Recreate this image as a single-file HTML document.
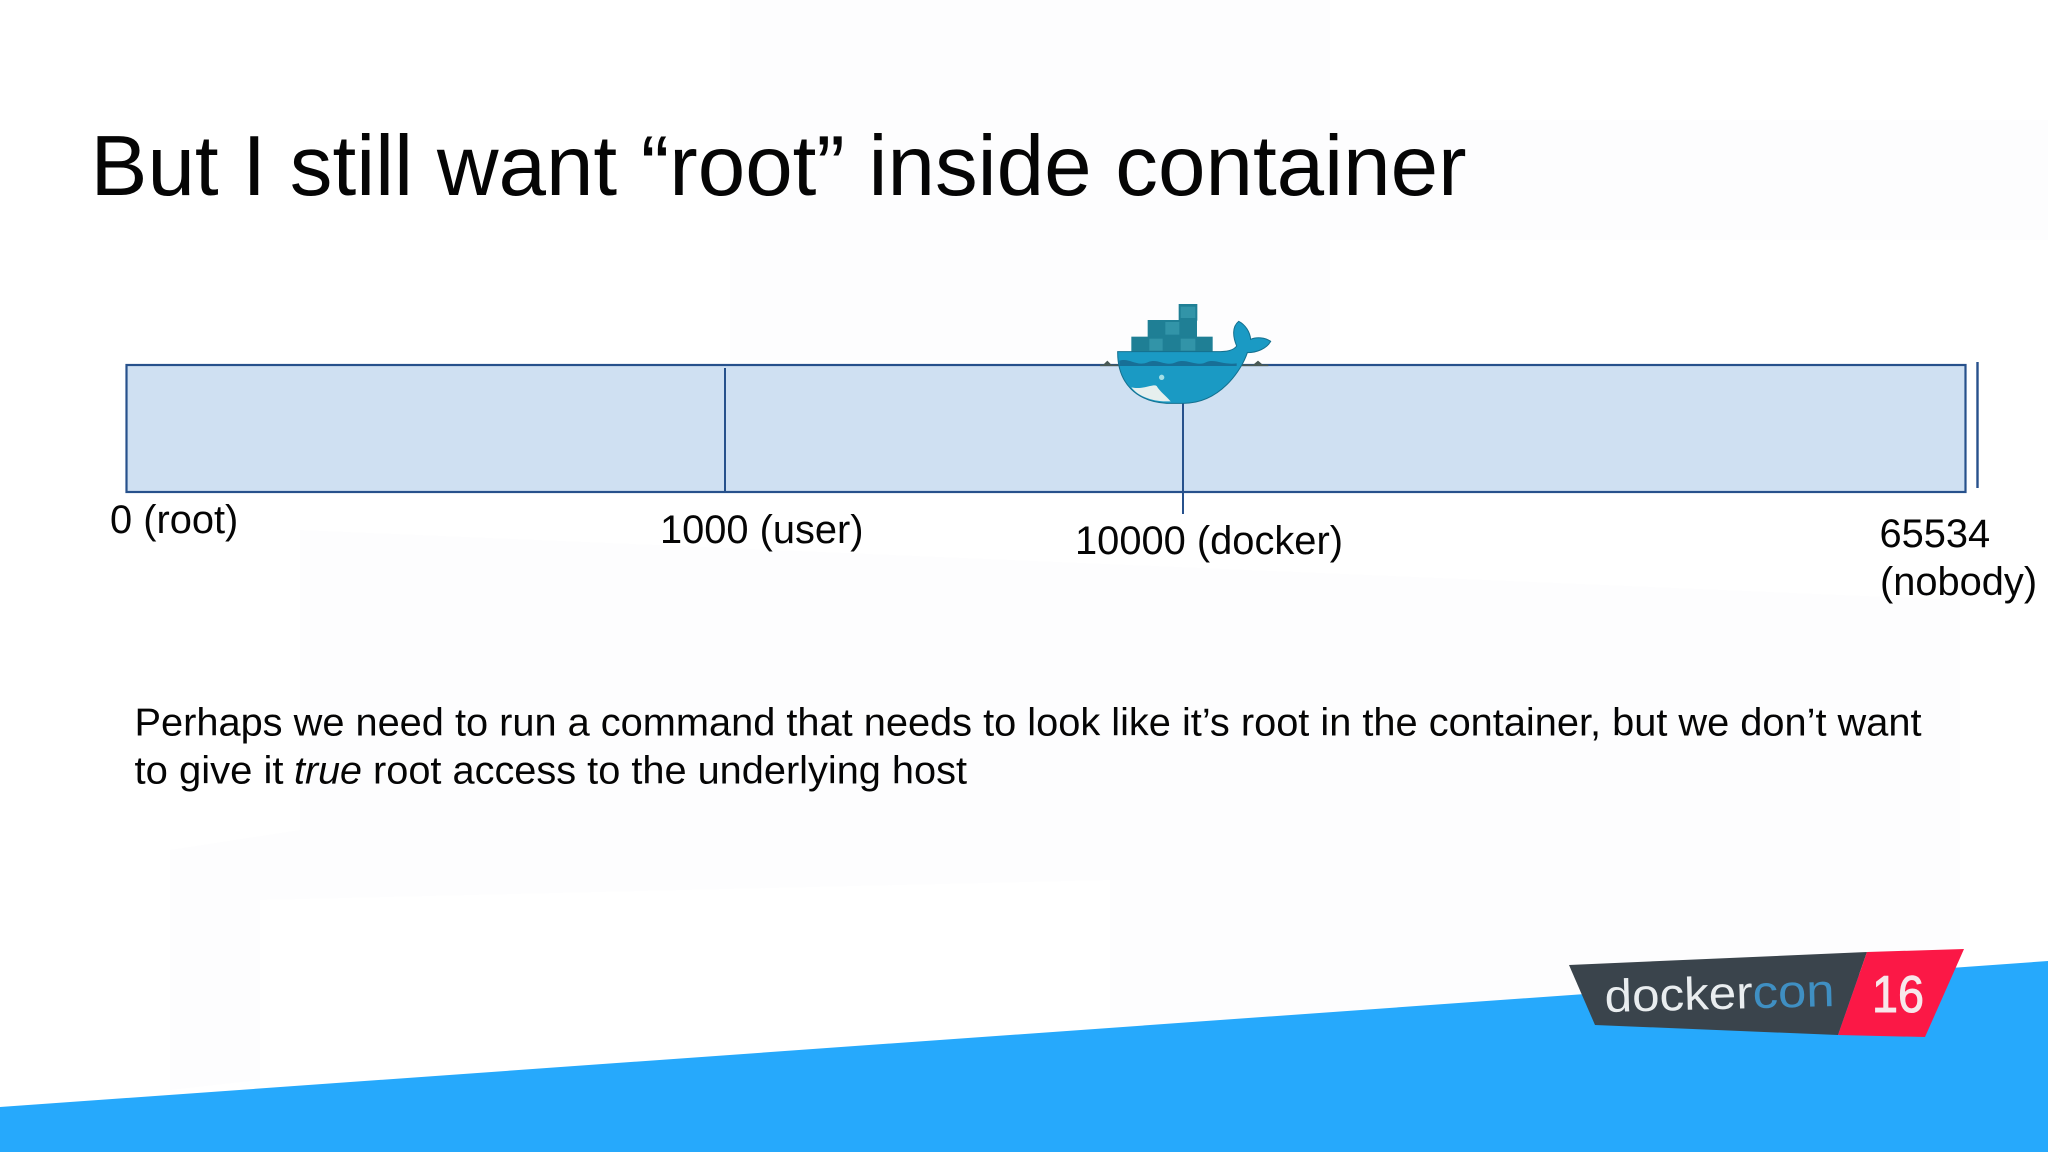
<!DOCTYPE html>
<html><head><meta charset="utf-8"><style>
html,body{margin:0;padding:0;background:#fff;width:2048px;height:1152px;overflow:hidden}
svg{display:block;position:absolute;left:0;top:0}
text{font-family:"Liberation Sans",Arial,sans-serif;fill:#050505}
</style></head><body>
<svg width="2048" height="1152" viewBox="0 0 2048 1152">
<rect width="2048" height="1152" fill="#fff"/>
<g fill="#fdfdfe">
<polygon points="300,530 1960,600 1960,960 1110,1040 1110,880 260,900 260,1080 170,1090 170,850 300,830"/>
<rect x="730" y="0" width="600" height="360"/>
<rect x="1330" y="120" width="718" height="120"/>
</g>
<polygon points="0,1107 2048,961 2048,1152 0,1152" fill="#26a9fc"/>
<rect x="126.5" y="365" width="1839" height="127" fill="#cfe0f2" stroke="#27518c" stroke-width="2.2"/>
<line x1="725" y1="368" x2="725" y2="492" stroke="#27518c" stroke-width="2"/>
<line x1="1183" y1="400" x2="1183" y2="514" stroke="#27518c" stroke-width="2"/>
<line x1="1977.5" y1="362" x2="1977.5" y2="488" stroke="#27518c" stroke-width="2.4"/>
<text x="90.5" y="195" font-size="85" textLength="1376" lengthAdjust="spacingAndGlyphs">But I still want “root” inside container</text>
<text x="110" y="533" font-size="39.8">0 (root)</text>
<text x="660" y="543" font-size="39.8">1000 (user)</text>
<text x="1075" y="554" font-size="39.8" textLength="268" lengthAdjust="spacingAndGlyphs">10000 (docker)</text>
<text x="1879.5" y="547" font-size="39.8">65534</text>
<text x="1880" y="595" font-size="39.8">(nobody)</text>
<text x="134.5" y="735.5" font-size="39" textLength="1787" lengthAdjust="spacingAndGlyphs">Perhaps we need to run a command that needs to look like it’s root in the container, but we don’t want</text>
<text x="134.5" y="783.5" font-size="39" textLength="149" lengthAdjust="spacingAndGlyphs">to give it</text>
<text x="294" y="783.5" font-size="39" font-style="italic" textLength="68" lengthAdjust="spacingAndGlyphs">true</text>
<text x="373" y="783.5" font-size="39" textLength="594" lengthAdjust="spacingAndGlyphs">root access to the underlying host</text>
<g transform="translate(1060 280) scale(.33333)">
<path d="M120 256H178M545 256H625" stroke="#4a5a55" stroke-width="5"/>
<path d="M130 254l12-12 12 12zM580 254l14-12 14 12z" fill="#4a5a55"/>
<g fill="#1f7f95">
<rect x="356" y="72" width="56" height="50"/>
<rect x="263" y="120" width="148" height="52"/>
<rect x="214" y="170" width="244" height="48"/>
</g>
<g fill="#3294a8">
<rect x="268" y="176" width="40" height="36"/>
<rect x="362" y="176" width="44" height="36"/>
<rect x="316" y="126" width="42" height="38"/>
<rect x="362" y="80" width="44" height="34"/>
</g>
<path d="M173 215H470C500 215 520 212 530 198C518 170 516 140 536 124C556 134 570 156 572 178C590 170 615 172 632 184C620 206 590 218 562 218C545 270 480 370 370 370H320C230 365 172 310 173 215Z" fill="#1a9ac4" stroke="#14708f" stroke-width="3"/>
<path d="M178 242C210 232 230 262 265 246C295 234 315 262 350 246C380 234 410 262 440 246C465 236 490 256 530 250V258H178Z" fill="#176f97"/>
<path d="M214 322C250 330 280 310 290 318C300 335 320 350 332 364H310C270 362 235 348 214 322Z" fill="#e6efee"/>
<circle cx="305" cy="292" r="8" fill="#a4dfe6"/>
</g>
<polygon points="1569,965 1867,952 1838,1035 1595,1025" fill="#3a444c"/>
<polygon points="1867,952 1964,949 1925,1037 1838,1035" fill="#fb1846"/>
<g transform="rotate(-1.5 1720 1009)">
<text x="1605" y="1009" font-size="46" style="fill:#e9edef" textLength="148" lengthAdjust="spacingAndGlyphs">docker</text>
<text x="1753" y="1009" font-size="46" style="fill:#3f8fc2" textLength="82" lengthAdjust="spacingAndGlyphs">con</text>
</g>
<text x="1872" y="1012" font-size="52" style="fill:#f7e7ea;stroke:#f7e7ea;stroke-width:1" textLength="52" lengthAdjust="spacingAndGlyphs">16</text>
</svg>
</body></html>
